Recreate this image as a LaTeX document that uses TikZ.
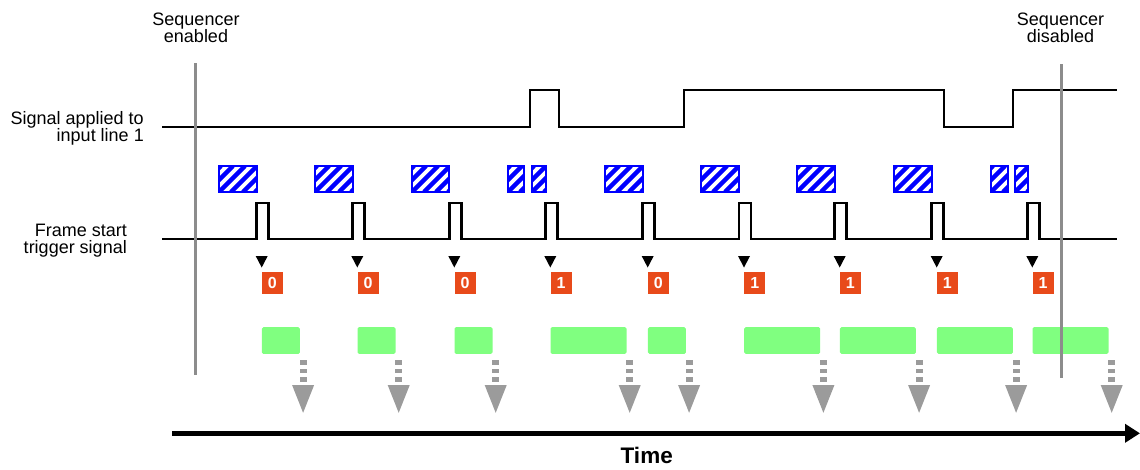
\documentclass[tikz,border=0pt]{standalone}
\usepackage{fontspec}
\setmainfont{Liberation Sans}
\usetikzlibrary{arrows.meta,fit}
\definecolor{seqgray}{RGB}{140,140,140}
\definecolor{arrgray}{RGB}{155,155,155}
\definecolor{lblorange}{RGB}{232,74,26}
\definecolor{expgreen}{RGB}{128,255,128}
\definecolor{hatchblue}{RGB}{0,0,255}
\begin{document}
\begin{tikzpicture}[x=1pt,y=-1pt,
  sig/.style={line width=2.6pt, line join=miter},
  seqline/.style={draw=seqgray, line width=3pt},
  txt/.style={font=\fontsize{18}{17}\selectfont, inner sep=0pt},
  hbox/.style={draw=hatchblue, line width=2pt, inner sep=0pt},
  hstripe/.style={draw=hatchblue, line width=4.3pt},
  olbl/.style={fill=lblorange, text=white, font=\bfseries\fontsize{16}{16}\selectfont, minimum width=21pt, minimum height=22pt, inner sep=0pt, anchor=north west},
  expbox/.style={fill=expgreen, rounded corners=1.5pt, minimum height=26.7pt, inner sep=0pt, anchor=north west},
  trimark/.style={fill=black},
  arr/.style={fill=arrgray}]
\useasboundingbox (0,0) rectangle (1140,469);

% labels
\node[txt, align=center, anchor=base] (enl) at (196,42) {Sequencer\\enabled};
\node[txt, align=center, anchor=base] (disl) at (1060.5,42) {Sequencer\\disabled};
\node[txt, align=right, anchor=base east] (inl) at (144,141) {Signal applied to\\input line 1};
\node[txt, align=right, anchor=base east] (fsl) at (127,253) {Frame start\\trigger signal};

% input line signal
\draw[sig] (162,127) -- (530,127) -- (530,90) -- (559,90) -- (559,127) -- (684,127) -- (684,90) -- (944,90) -- (944,127) -- (1013,127) -- (1013,90) -- (1117,90);

% frame start trigger signal
\draw[sig] (162,239) foreach \r in {256.7,352.3,449.3,545.3,642.7,739,834.7,931.7,1027.3} { -- (\r,239) -- (\r,203) -- (\r+12,203) -- (\r+12,239) } -- (1117,239);

% hatched boxes
\foreach \a/\b [count=\i] in {219/257,315/353,412/449,508/524,532/546,605/643,701/739,797/835,894/932,991/1008,1015/1028} {
  \begin{scope}
    \clip (\a,166) rectangle (\b,192);
    \foreach \s in {-36,-24,...,48} \draw[hstripe] (\a+\s,192) -- (\a+\s+26,166);
  \end{scope}
  \node[hbox, fit={(\a,166) (\b,192)}] (hb\i) {};
}

% triggers, labels, exposures, readouts
\foreach \r/\d [count=\i] in {256.7/0,352.3/0,449.3/0,545.3/1,642.7/0,739/1,834.7/1,931.7/1,1027.3/1} {
  \pgfmathsetmacro\c{\r+5}
  \pgfmathsetmacro\w{\d==1 ? 76 : 38}
  \fill[trimark] (\c-6,256) -- (\c+6,256) -- (\c,267.5) -- cycle;
  \node[olbl] (L\i) at (\c,272) {\d};
  \node[expbox, minimum width=\w pt] (E\i) at (\c,327) {};
  \coordinate (A\i) at ([xshift=3pt]E\i.south east);
  \fill[arr] ([shift={(-3.5,6.3)}]A\i) rectangle ([shift={(3.5,10.7)}]A\i);
  \fill[arr] ([shift={(-3.5,14.7)}]A\i) rectangle ([shift={(3.5,19)}]A\i);
  \fill[arr] ([shift={(-3.5,23)}]A\i) rectangle ([shift={(3.5,27.7)}]A\i);
  \fill[arr] ([shift={(-11,31)}]A\i) -- ([shift={(11,31)}]A\i) -- ([shift={(0,58.7)}]A\i) -- cycle;
}

% time axis
\coordinate (t0) at (172,433.3);
\coordinate (t1) at (1140,433.3);
\draw[line width=5pt, -{Triangle[width=18pt,length=15pt]}] (t0) -- (t1);
\node[font=\bfseries\fontsize{22.5}{22}\selectfont, inner sep=0pt, anchor=base] (time) at (646.7,463.3) {Time};

% sequencer lines
\coordinate (s1a) at (195.5,63);
\coordinate (s1b) at (195.5,375);
\coordinate (s2a) at (1061,64);
\coordinate (s2b) at (1061,378);
\draw[seqline] (s1a) -- (s1b);
\draw[seqline] (s2a) -- (s2b);
\end{tikzpicture}
\end{document}
